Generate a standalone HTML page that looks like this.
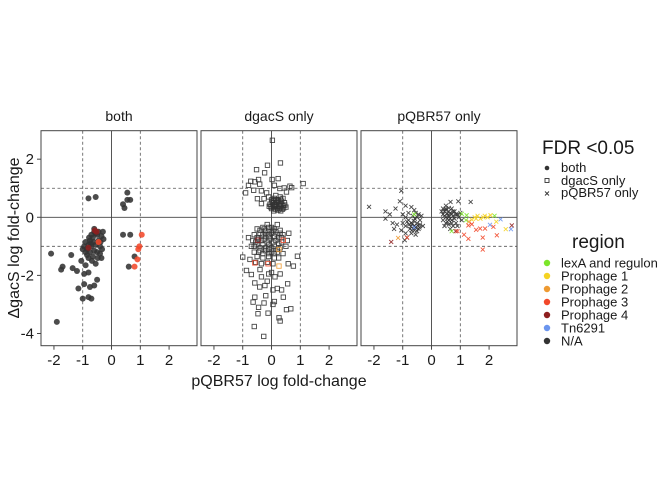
<!DOCTYPE html>
<html><head><meta charset="utf-8"><style>
body{margin:0;background:#fff;}
svg text{font-family:"Liberation Sans",Arial,sans-serif;fill:#1a1a1a;}
</style></head><body>
<svg id="chart" width="672" height="480" xmlns="http://www.w3.org/2000/svg">
<g id="panels"></g>
<text transform="translate(19,238) rotate(-90)" text-anchor="middle" font-size="16">ΔgacS log fold-change</text>
<text x="279" y="386" text-anchor="middle" font-size="16">pQBR57 log fold-change</text>
<g>
<text x="542" y="154" font-size="19">FDR &lt;0.05</text>
<circle cx="547" cy="168" r="2.3" fill="#333"/>
<text x="561" y="172" font-size="13">both</text>
<rect x="545" y="178.5" width="4" height="4" fill="none" stroke="#333" stroke-width="0.9"/>
<text x="561" y="185" font-size="13">dgacS only</text>
<path d="M545,191.5l4,4M549,191.5l-4,4" stroke="#333" stroke-width="0.9"/>
<text x="561" y="197" font-size="13">pQBR57 only</text>
</g>
<g id="legend-region">
<text x="572" y="248" font-size="19">region</text>
</g>
</svg>
<script>
// data: [pQBR57 logFC, dgacS logFC, region index]
const regionNames=["lexA and regulon","Prophage 1","Prophage 2","Prophage 3","Prophage 4","Tn6291","N/A"];
const regionColors=["#7CE62A","#F5D322","#EE9A32","#F2482A","#8E1F1F","#6B95EE","#333333"];
const panelTitles=["both","dgacS only","pQBR57 only"];
const xTicks=[-2,-1,0,1,2];
const yTicks=[2,0,-2,-4];
const bothPts=[[-2.1,-1.25,6],[-1.9,-3.6,6],[-0.8,0.65,6],[-0.55,0.7,6],[0.55,0.85,6],[0.55,0.6,6],[0.4,0.45,6],[0.45,0.32,6],[0.65,0.6,6],[0.4,-0.6,6],[0.65,-0.6,6],[0.8,-1.35,6],[0.6,-1.7,6],
[-1.7,-1.7,6],[-1.75,-1.8,6],[-1.4,-1.3,6],[-1.35,-1.75,6],[-1.2,-1.85,6],[-1.05,-1.5,6],[-0.9,-1.65,6],[-0.95,-1.95,6],[-0.8,-1.9,6],[-0.95,-2.3,6],[-0.75,-2.4,6],[-0.6,-2.35,6],[-0.5,-2.15,6],[-1.15,-2.45,6],[-1.0,-2.8,6],[-0.8,-2.75,6],[-0.7,-2.8,6],[-0.35,-1.4,6],
[-0.6,-0.5,6],[-0.5,-0.6,6],[-0.45,-0.8,6],[-0.65,-0.7,6],[-0.75,-0.8,6],[-0.8,-0.95,6],[-0.7,-1.0,6],[-0.55,-0.95,6],[-0.4,-1.0,6],[-0.35,-0.65,6],[-0.3,-0.5,6],[-0.85,-1.1,6],[-0.75,-1.2,6],[-0.6,-1.15,6],[-0.5,-1.2,6],[-0.4,-1.25,6],[-0.65,-1.35,6],[-0.9,-0.85,6],[-0.55,-0.55,6],[-0.7,-0.6,6],[-0.48,-1.4,6],[-0.62,-0.85,6],[-0.78,-0.7,6],[-0.45,-0.5,6],[-0.38,-0.85,6],[-0.33,-1.1,6],[-0.85,-1.3,6],[-0.95,-1.0,6],[-0.68,-1.5,6],[-0.55,-1.6,6],[-0.28,-0.75,6],[-0.6,-0.4,6],[-0.9,-1.2,6],[-1.0,-1.1,6],[-0.8,-1.4,6],[-0.72,-0.9,6],
[1.05,-0.6,3],[0.97,-1.0,3],[0.93,-1.1,3],[0.9,-1.45,3],[0.8,-1.7,3],[-0.45,-0.85,3],[-0.52,-0.5,4],[-0.58,-0.45,4],[-0.8,-1.05,4]];
const dgacsPts=[[0.03,2.65,6],[0.31,1.87,6],[-0.14,1.79,6],[-0.52,1.64,6],[-0.24,1.53,6],[0.23,1.33,6],[0.02,1.3,6],[-0.72,1.24,6],[-0.58,1.22,6],[-0.41,1.14,6],[1.1,1.16,6],[0.64,1.07,6],[0.44,1.01,6],[0.29,0.99,6],[-0.9,0.84,6],[-0.62,0.93,6],[-0.35,0.91,6],[-0.17,0.84,6],[-0.49,0.64,6],[-0.26,0.64,6],[-0.35,0.47,6],[0.52,0.87,6],[0.7,1.02,6],[-0.8,1.1,6],[-0.45,1.3,6],[0.1,1.1,6],
[0.0,0.3,6],[0.1,0.35,6],[0.2,0.3,6],[0.3,0.35,6],[0.4,0.4,6],[-0.05,0.45,6],[0.05,0.5,6],[0.15,0.45,6],[0.25,0.5,6],[0.35,0.55,6],[0.45,0.5,6],[0.0,0.6,6],[0.1,0.65,6],[0.2,0.6,6],[0.3,0.7,6],[-0.1,0.7,6],[0.15,0.75,6],[0.4,0.65,6],[0.5,0.35,6],[-0.08,0.38,6],[0.22,0.25,6],[0.32,0.22,6],[0.08,0.22,6],
[0.05,0.4,6],[0.12,0.42,6],[0.18,0.38,6],[0.25,0.4,6],[0.28,0.3,6],[0.35,0.45,6],[0.42,0.32,6],[0.02,0.52,6],[0.08,0.57,6],[0.18,0.52,6],[0.24,0.58,6],[0.32,0.62,6],[0.12,0.28,6],[0.38,0.28,6],[-0.02,0.35,6],[0.14,0.6,6],[0.27,0.45,6],[0.46,0.42,6],
[-1.0,-1.37,6],[0.9,-1.34,6],[0.76,-1.68,6],[0.58,-1.6,6],[-0.87,-1.83,6],[-0.7,-1.97,6],[-0.58,-2.26,6],[-0.41,-2.4,6],[-0.23,-2.35,6],[0.05,-2.5,6],[0.2,-2.45,6],[0.35,-2.5,6],[0.56,-2.29,6],[0.41,-2.75,6],[-0.58,-2.75,6],[-0.64,-2.92,6],[-0.26,-2.95,6],[-0.12,-3.3,6],[-0.47,-3.32,6],[0.26,-3.46,6],[0.3,-3.57,6],[-0.6,-3.76,6],[-0.27,-4.1,6],[0.52,-3.18,6],[0.67,-3.15,6],[-0.1,-1.95,6],[0.0,-1.9,6],[0.12,-2.05,6],[-0.35,-2.05,6],[-0.2,-2.7,6],[0.1,-2.9,6],[-0.4,-1.8,6],[0.3,-1.95,6],[-0.15,-2.2,6],[0.05,-3.0,6],[-0.45,-3.1,6],
[-0.5,-0.4,6],[-0.3,-0.35,6],[-0.1,-0.35,6],[0.1,-0.4,6],[0.3,-0.45,6],[-0.6,-0.6,6],[-0.4,-0.55,6],[-0.2,-0.55,6],[0.0,-0.55,6],[0.2,-0.6,6],[0.4,-0.6,6],[-0.65,-0.8,6],[-0.45,-0.75,6],[-0.25,-0.75,6],[-0.05,-0.75,6],[0.15,-0.8,6],[0.35,-0.85,6],[0.55,-0.8,6],[-0.7,-1.0,6],[-0.5,-0.95,6],[-0.3,-0.95,6],[-0.1,-0.95,6],[0.1,-1.0,6],[0.3,-1.05,6],[0.5,-1.0,6],[-0.6,-1.2,6],[-0.4,-1.15,6],[-0.2,-1.15,6],[0.0,-1.2,6],[0.2,-1.2,6],[0.4,-1.25,6],[-0.5,-1.35,6],[-0.3,-1.4,6],[-0.1,-1.35,6],[0.1,-1.4,6],[-0.75,-1.45,6],[-0.35,-1.6,6],[-0.15,-1.55,6],[0.05,-1.6,6],[-0.55,-1.55,6],[0.25,-1.4,6],[-0.8,-0.7,6],[0.6,-0.55,6],[-0.15,-0.25,6],[0.2,-0.25,6],
[-0.4,-0.45,6],[-0.3,-0.6,6],[-0.2,-0.45,6],[-0.1,-0.6,6],[0.05,-0.45,6],[0.1,-0.65,6],[0.25,-0.7,6],[-0.35,-0.8,6],[-0.15,-0.85,6],[0.05,-0.85,6],[0.25,-0.9,6],[-0.55,-0.85,6],[-0.4,-1.05,6],[-0.2,-1.05,6],[0.0,-1.05,6],[0.2,-1.1,6],[-0.3,-1.25,6],[-0.1,-1.25,6],[0.1,-1.25,6],[-0.5,-0.7,6],[-0.25,-0.4,6],[0.0,-0.35,6],[0.15,-0.5,6],[-0.05,-0.65,6],[-0.2,-0.65,6],[0.3,-0.55,6],[-0.45,-1.2,6],[0.35,-0.7,6],[-0.6,-1.0,6],[-0.1,-1.1,6],
[0.41,-0.79,3],[0.26,-1.11,2],[0.26,-1.68,2],[-0.58,-1.57,3],[-0.12,-1.6,3],[-0.47,-0.79,4]];
const pqbrPts=[[-2.17,0.36,6],[-1.05,0.91,6],[-1.6,0.2,6],[-1.45,0.1,6],[-1.6,-0.05,6],[-1.35,-0.2,6],[-1.25,0.3,6],[-1.1,0.55,6],[-0.9,0.4,6],[-0.7,0.35,6],[-0.6,0.25,6],[-1.3,-0.4,6],[-1.2,-0.25,6],
[-1.0,0.1,6],[-0.9,0.0,6],[-0.8,-0.1,6],[-0.7,-0.2,6],[-0.6,-0.3,6],[-0.5,-0.2,6],[-0.4,-0.1,6],[-0.5,0.0,6],[-0.65,0.05,6],[-0.8,0.15,6],[-1.0,-0.2,6],[-0.9,-0.3,6],[-0.75,-0.4,6],[-0.6,-0.45,6],[-0.45,-0.4,6],[-0.4,-0.25,6],[-0.35,0.05,6],[-0.7,-0.55,6],[-0.55,-0.6,6],[-0.9,-0.55,6],[-1.05,-0.45,6],[-0.3,-0.3,6],[-0.55,0.15,6],[-0.85,-0.7,6],[-0.93,-0.79,6],
[-0.62,-0.12,6],[-0.55,-0.35,6],[-0.48,-0.28,6],[-0.72,-0.32,6],[-0.66,-0.22,6],[-0.58,-0.05,6],[-0.42,-0.35,6],[-0.5,-0.48,6],[-0.68,-0.45,6],[-0.78,-0.25,6],[-0.45,0.1,6],[-0.85,-0.15,6],
[-1.4,-0.85,4],[-1.16,-0.71,2],[-0.85,-0.7,3],[-0.6,0.1,0],[-0.6,-0.35,5],
[0.4,0.3,6],[0.5,0.25,6],[0.6,0.2,6],[0.7,0.3,6],[0.8,0.2,6],[0.9,0.1,6],[0.4,0.1,6],[0.5,0.0,6],[0.6,0.05,6],[0.7,0.1,6],[0.8,-0.05,6],[0.95,0.0,6],[0.4,-0.1,6],[0.55,-0.15,6],[0.7,-0.1,6],[0.85,-0.2,6],[0.45,-0.3,6],[0.6,-0.25,6],[0.75,-0.3,6],[0.9,-0.3,6],[1.0,0.15,6],[0.35,0.2,6],[0.66,0.53,6],[0.93,0.55,6],[1.36,0.53,6],[0.5,0.4,6],[1.05,-0.1,6],[0.65,-0.4,6],
[0.45,0.2,6],[0.55,0.12,6],[0.65,0.15,6],[0.75,0.2,6],[0.5,0.3,6],[0.6,0.32,6],[0.45,0.05,6],[0.55,-0.05,6],[0.65,-0.05,6],[0.75,0.05,6],[0.85,0.1,6],[0.5,-0.2,6],[0.6,-0.1,6],[0.7,-0.2,6],
[0.7,-0.48,0],[1.22,0.07,0],[1.05,0.12,0],[1.2,-0.1,0],[2.19,0.05,0],
[1.5,0.0,1],[1.6,0.05,1],[1.7,-0.05,1],[1.85,0.05,1],[1.95,0.0,1],[2.05,0.07,1],[1.55,-0.05,1],[1.4,-0.08,1],[2.25,-0.15,1],[2.58,-0.41,1],[1.8,0.0,1],
[1.3,-0.15,2],[2.76,-0.41,5],[2.4,-0.07,5],[2.03,-0.26,5],[2.79,-0.28,4],[0.84,-0.48,4],
[1.28,-0.28,3],[1.4,-0.24,3],[1.55,-0.43,3],[1.69,-0.39,3],[1.86,-0.39,3],[1.13,-0.6,3],[1.28,-0.74,3],[1.78,-0.7,3],[2.15,-0.33,3],[2.27,-0.62,3],[1.78,-1.11,3],[0.9,-0.48,3]];
const allPanels=[bothPts,dgacsPts,pqbrPts];

const NS="http://www.w3.org/2000/svg";
const panelW=156, panelTop=130.7, panelH=215, panelGap=4;
const xMin=-2.45, xMax=2.97, yMin=-4.42, yMax=2.98;
function xScale(p,v){return 41+p*(panelW+panelGap)+(v-xMin)/(xMax-xMin)*panelW;}
function yScale(v){return panelTop+(yMax-v)/(yMax-yMin)*panelH;}
function mk(tag,attrs,parent){const e=document.createElementNS(NS,tag);for(const k in attrs)e.setAttribute(k,attrs[k]);parent.appendChild(e);return e;}
const root=document.getElementById('panels');
for(let p=0;p<3;p++){
  const g=mk('g',{},root);
  
  
  const x0=xScale(p,xMin), x1=xScale(p,xMax);
  const t=mk('text',{x:(x0+x1)/2,y:121,'text-anchor':'middle','font-size':14},g);
  t.textContent=panelTitles[p];
  
  
  [-1,1].forEach(v=>{
    const l1=mk('line',{x1:xScale(p,v),x2:xScale(p,v),y1:panelTop,y2:panelTop+panelH,stroke:'#555','stroke-width':0.8,'stroke-dasharray':'3,2.5'},g);
    
    
    const l2=mk('line',{x1:x0,x2:x1,y1:yScale(v),y2:yScale(v),stroke:'#555','stroke-width':0.8,'stroke-dasharray':'3,2.5'},g);
    
    
  });
  const z1=mk('line',{x1:xScale(p,0),x2:xScale(p,0),y1:panelTop,y2:panelTop+panelH,stroke:'#444','stroke-width':0.9},g);
  
  
  const z2=mk('line',{x1:x0,x2:x1,y1:yScale(0),y2:yScale(0),stroke:'#444','stroke-width':0.9},g);
  
  
  allPanels[p].forEach(d=>{
    const cx=xScale(p,d[0]), cy=yScale(d[1]), col=regionColors[d[2]];
    let m;
    if(p===0){m=mk('circle',{cx:cx,cy:cy,r:3,fill:col,'fill-opacity':0.88},g);}
    else if(p===1){m=mk('rect',{x:cx-2.2,y:cy-2.2,width:4.4,height:4.4,fill:'none',stroke:col,'stroke-width':0.9,'stroke-opacity':0.9},g);}
    else{m=mk('path',{d:`M${cx-2},${cy-2}l4,4M${cx+2},${cy-2}l-4,4`,stroke:col,'stroke-width':0.9,'stroke-opacity':0.9},g);}
    
    
  });
  const b=mk('rect',{x:x0,y:panelTop,width:panelW,height:panelH,fill:'none',stroke:'#444','stroke-width':1},g);
  
  
  xTicks.forEach(v=>{
    const tk=mk('line',{x1:xScale(p,v),x2:xScale(p,v),y1:panelTop+panelH,y2:panelTop+panelH+4,stroke:'#444'},g);
    
    
    const tl=mk('text',{x:xScale(p,v),y:365,'text-anchor':'middle','font-size':15},g);
    tl.textContent=v;
    
    
  });
}
yTicks.forEach(v=>{
  const tk=mk('line',{x1:37,x2:41,y1:yScale(v),y2:yScale(v),stroke:'#444'},root);
  
  
  const tl=mk('text',{x:34,y:yScale(v)+5,'text-anchor':'end','font-size':15},root);
  tl.textContent=v;
  
  
});
const lg=document.getElementById('legend-region');
regionNames.forEach((n,i)=>{
  const y=263+i*13;
  const c=mk('circle',{cx:547,cy:y,r:3.2,fill:regionColors[i]},lg);
  
  
  const t=mk('text',{x:561,y:y+4.5,'font-size':13},lg);
  t.textContent=n;
  
  
});
</script>
</body></html>
